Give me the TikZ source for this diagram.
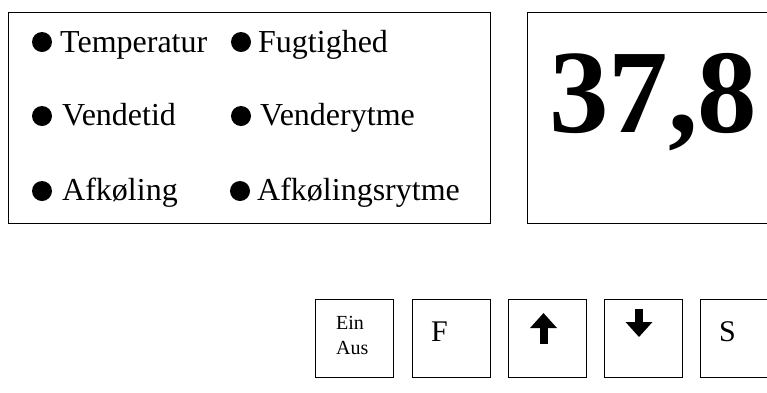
\documentclass[tikz,border=0pt]{standalone}
\usepackage{fontspec}
\setmainfont{Liberation Serif}
\usetikzlibrary{positioning,arrows.meta}

\begin{document}
\begin{tikzpicture}[
  x=1pt,y=-1pt,
  panel/.style={draw,line width=1.2pt,minimum height=211pt,inner sep=0pt,anchor=north west},
  keybox/.style={draw,line width=1.2pt,minimum width=78pt,minimum height=78pt,inner sep=0pt,anchor=north west},
  dot/.style={circle,fill,inner sep=0pt,minimum size=20pt},
  item/.style={anchor=base west,inner sep=0pt,font=\fontsize{32}{32}\selectfont},
  keytext/.style={anchor=base west,inner sep=0pt,font=\fontsize{30}{30}\selectfont},
  keyarr/.style={line width=8pt,-{Triangle[length=15pt,width=26pt]}}
]
\useasboundingbox (0,0) rectangle (767,392);
% display panels
\node[panel,minimum width=482pt] (menu) at (8,12) {};
\node[panel,minimum width=260pt] (screen) at (527,12) {};
\node[anchor=base west,inner sep=0pt,font=\fontsize{119}{119}\selectfont\bfseries] (value) at (549,132) {37,8};
% menu items
\node[dot] (d1) at (42,42) {};
\node[item] (t1) at (60,52) {Temperatur};
\node[dot] (d2) at (241,42) {};
\node[item] (t2) at (258,52) {Fugtighed};
\node[dot] (d3) at (42,116) {};
\node[item] (t3) at (62,125) {Vendetid};
\node[dot] (d4) at (241,116) {};
\node[item] (t4) at (260,125) {Venderytme};
\node[dot] (d5) at (42,191) {};
\node[item] (t5) at (62,200) {Afkøling};
\node[dot] (d6) at (240,191) {};
\node[item] (t6) at (257,200) {Afkølingsrytme};
% keys
\node[keybox] (onoff) at (315,299) {};
\node[keybox] (fkey) at (412,299) {};
\node[keybox] (upkey) at (508,299) {};
\node[keybox] (downkey) at (604,299) {};
\node[keybox] (skey) at (700,299) {};
\node[anchor=base west,inner sep=0pt,align=left,font=\fontsize{20}{25}\selectfont] (eintext) at (336,354) {Ein\\Aus};
\node[keytext] (ftext) at (431,341) {F};
\node[keytext] (stext) at (719,341) {S};
\draw[keyarr] (543.5,344) -- (543.5,313);
\draw[keyarr] (639,309) -- (639,337);
\end{tikzpicture}
\end{document}
